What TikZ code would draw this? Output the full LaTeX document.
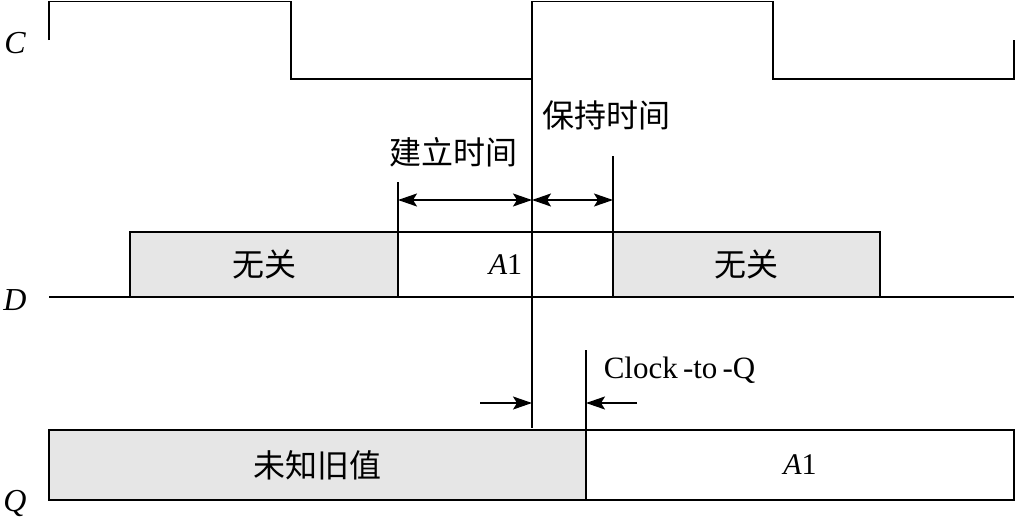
\documentclass[tikz,border=0pt]{standalone}
\usepackage{fontspec}
\setmainfont{Liberation Serif}
\newfontfamily\cjk{Noto Sans CJK SC}
\usetikzlibrary{arrows.meta}
\definecolor{boxgray}{HTML}{E6E6E6}
\begin{document}
\begin{tikzpicture}[x=1pt,y=-1pt,line width=1.6pt,
  box/.style={draw,line width=1.6pt,inner sep=0pt,outer sep=0pt,anchor=north west,font=\fontsize{30}{36}\selectfont},
  grybox/.style={box,fill=boxgray},
  lbl/.style={inner sep=0pt,font=\fontsize{30}{36}\selectfont},
  cjklbl/.style={inner sep=0pt,font=\fontsize{32}{38}\selectfont\cjk},
  sig/.style={inner sep=0pt,font=\fontsize{32}{38}\selectfont\itshape},
  dimarrow/.style={{Stealth[length=19pt,width=13pt,inset=4pt]}-{Stealth[length=19pt,width=13pt,inset=4pt]}},
  onearrow/.style={-{Stealth[length=19pt,width=13pt,inset=4pt]}}
]
\useasboundingbox (0,0) rectangle (1016,522);
% signal labels
\node[sig] (lc) at (15,43) {C};
\node[sig] (ld) at (15,300) {D};
\node[sig] (lq) at (15,503) {Q};
% clock
\draw (49,40) -- (49,1.5) -- (291,1.5) -- (291,79) -- (532,79) -- (532,1.5) -- (773,1.5) -- (773,79) -- (1014,79) -- (1014,40);
\draw (532,79) -- (532,428);
% D line and boxes
\draw (49,297) -- (1014,297);
\node[grybox,minimum width=268pt,minimum height=65pt,font=\fontsize{32}{38}\selectfont\cjk] (d1) at (130,232) {无关};
\node[box,minimum width=215pt,minimum height=65pt] (d2) at (398,232) {\textit{A}1};
\node[grybox,minimum width=267pt,minimum height=65pt,font=\fontsize{32}{38}\selectfont\cjk] (d3) at (613,232) {无关};
% setup / hold
\coordinate (s0) at (398,182);
\coordinate (h0) at (613,156);
\draw (s0) -- (d2.north west);
\draw (h0) -- (d3.north west);
\coordinate (sa) at (398,200);
\coordinate (sm) at (532,200);
\coordinate (ha) at (613,200);
\draw[dimarrow] (sa) -- (sm);
\draw[dimarrow] (sm) -- (ha);
\node[cjklbl] (tsu) at (453,152) {建立时间};
\node[cjklbl] (th) at (606,115) {保持时间};
% Q boxes
\node[grybox,minimum width=537pt,minimum height=70pt,font=\fontsize{32}{38}\selectfont\cjk] (q1) at (49,430) {未知旧值};
\node[box,minimum width=428pt,minimum height=70pt] (q2) at (586,430) {\textit{A}1};
\coordinate (cq0) at (586,350);
\draw (cq0) -- (q2.north west);
\coordinate (la) at (480,403);
\coordinate (lb) at (532,403);
\coordinate (ra) at (637,403);
\coordinate (rb) at (586,403);
\draw[onearrow] (la) -- (lb);
\draw[onearrow] (ra) -- (rb);
\node[lbl,anchor=west,font=\fontsize{31}{37}\selectfont] (tcq) at (603,370) {Clock\,-to\,-Q};
\end{tikzpicture}
\end{document}
